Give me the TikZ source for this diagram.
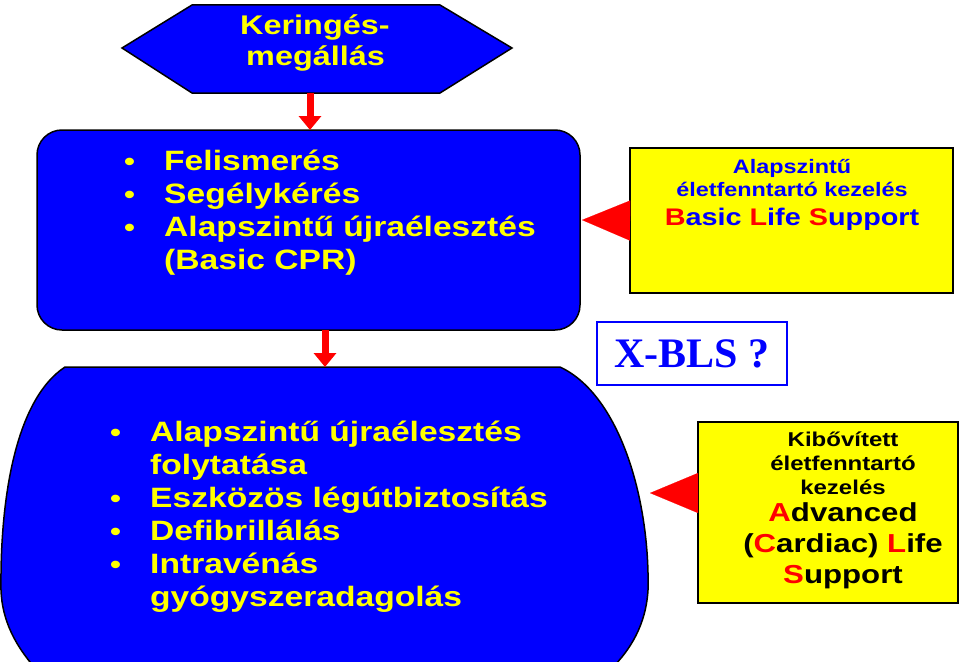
\documentclass[tikz,border=0pt]{standalone}
\usepackage{fontspec}
\setmainfont{Liberation Sans}[FakeStretch=1.2]
\newfontfamily\timesfont{Liberation Serif}
\usetikzlibrary{arrows.meta}
\definecolor{boxblue}{rgb}{0,0,1}
\definecolor{boxyellow}{rgb}{1,1,0}
\tikzstyle{bluebox}=[draw=black,line width=1.5pt,fill=boxblue]
\tikzstyle{yellowbox}=[draw=black,line width=1.5pt,fill=boxyellow,inner sep=0pt]
\tikzstyle{downarrow}=[red,line width=7pt,-{Triangle[width=22pt,length=14pt]}]
\tikzstyle{leftarrow}=[red,line width=0.1pt,-{Triangle[width=40pt,length=48pt]}]
\tikzstyle{bultext}=[text=boxyellow,font=\bfseries\fontsize{28}{33}\selectfont,align=left,inner sep=0pt]
\newcommand{\bul}{\makebox[40pt][l]{\fontsize{26}{26}\selectfont\textbullet}}
\newcommand{\nobul}{\makebox[40pt][l]{}}
\begin{document}
\begin{tikzpicture}[x=1pt,y=-1pt]
\useasboundingbox (0,0) rectangle (960,661);

% top hexagon
\draw[bluebox] (122,48) -- (192,5) -- (440,5) -- (512,48) -- (440,93) -- (192,93) -- cycle;
\node[text=boxyellow,font=\bfseries\fontsize{27}{31}\selectfont,align=left,anchor=west,inner sep=0pt] (hex) at (240,43) {Keringés-\\\hspace*{6pt}megállás};
\coordinate (hexs) at (310,93);

% first box
\draw[bluebox,rounded corners=25pt] (37,130) rectangle (580,330);
\coordinate (cprn) at (310,130);
\coordinate (cpre) at (582,220);
\coordinate (cprs) at (325,330);
\node[bultext,anchor=west] (cpr) at (124,213) {\bul Felismerés\\\bul Segélykérés\\\bul Alapszintű újraélesztés\\\nobul (Basic CPR)};

% BLS box
\node[yellowbox,minimum width=323pt,minimum height=145pt] (bls) at (791.5,220.5) {};
\node[text=boxblue,font=\bfseries\fontsize{19.5}{23}\selectfont,align=center] (blstext) at (792,195) {Alapszintű\\életfenntartó kezelés\\[6pt]{\fontsize{24}{26}\selectfont\textcolor{red}{B}asic \textcolor{red}{L}ife \textcolor{red}{S}upport}};

% X-BLS
\node[draw=boxblue,line width=1.5pt,fill=white,minimum width=190pt,minimum height=63pt,text=boxblue,font=\timesfont\bfseries\fontsize{42}{44}\selectfont] (xbls) at (692,353.5) {X-BLS ?};

% second shape
\draw[bluebox] (65,367) -- (560,367) .. controls (620,395) and (650,500) .. (648,590) .. controls (646,625) and (630,650) .. (612,668) -- (35,668) .. controls (15,645) and (2,620) .. (1,590) .. controls (0,500) and (15,400) .. (65,367) -- cycle;
\coordinate (acln) at (325,367);
\coordinate (acle) at (650,493);
\node[bultext,anchor=west] (acl) at (110,517) {\bul Alapszintű újraélesztés\\\nobul folytatása\\\bul Eszközös légútbiztosítás\\\bul Defibrillálás\\\bul Intravénás\\\nobul gyógyszeradagolás};

% ALS box
\node[yellowbox,minimum width=260pt,minimum height=181pt] (als) at (828,512.5) {};
\node[text=black,font=\bfseries\fontsize{20}{24}\selectfont,align=center] (alstext) at (843,510) {Kibővített\\életfenntartó\\kezelés\\[3pt]{\fontsize{26}{31}\selectfont\textcolor{red}{A}dvanced}\\[7pt]{\fontsize{26}{31}\selectfont(\textcolor{red}{C}ardiac) \textcolor{red}{L}ife}\\[7pt]{\fontsize{26}{31}\selectfont\textcolor{red}{S}upport}};

% arrows
\draw[downarrow] (hexs) -- (cprn);
\draw[downarrow] (cprs) -- (acln);
\draw[leftarrow] (bls.west) -- (cpre);
\draw[leftarrow] (als.west |- acle) -- (acle);
\end{tikzpicture}
\end{document}
